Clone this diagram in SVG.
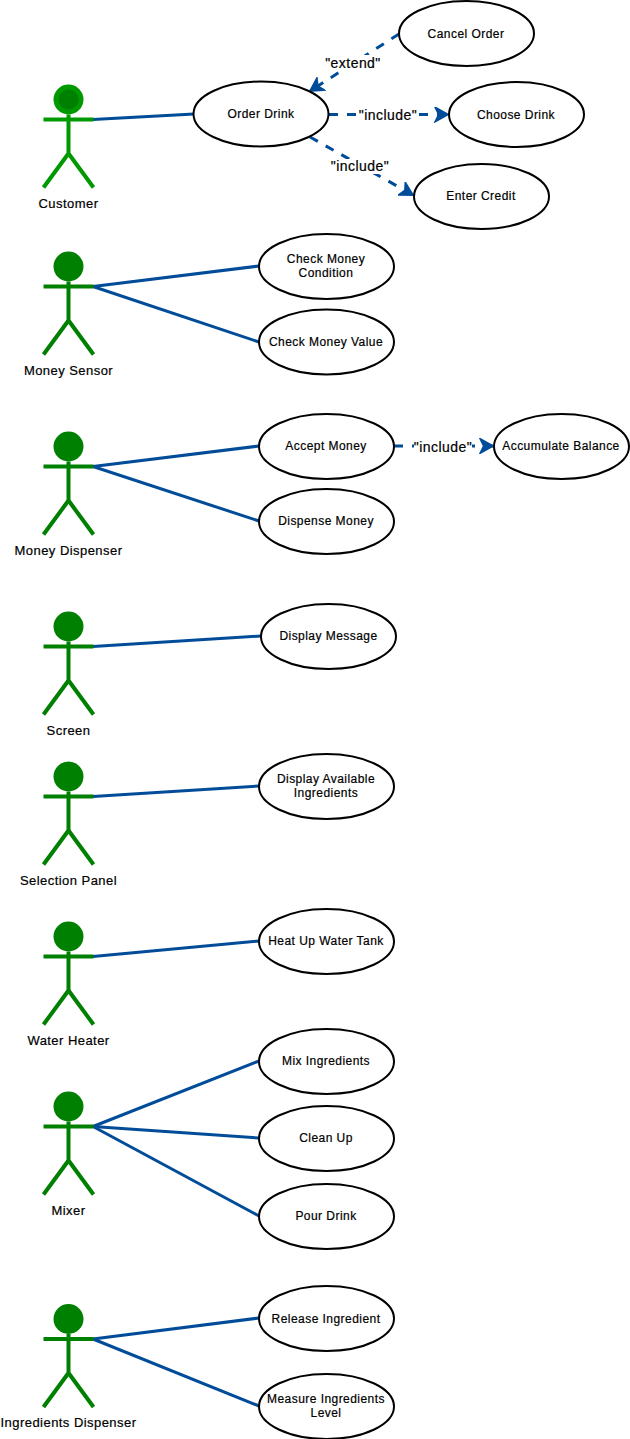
<svg xmlns="http://www.w3.org/2000/svg" width="630" height="1439" viewBox="0 0 630 1439">
<style>
text{font-family:"Liberation Sans",Arial,sans-serif;fill:#000;stroke:#000;stroke-width:.2px;text-anchor:middle;letter-spacing:.45px}
.uc ellipse{fill:#fff;stroke:#000;stroke-width:2}
.uc text{font-size:12px}
.actor text{font-size:13px}
.actor circle{fill:#008000}
.c line{stroke:#004C99;stroke-width:3;fill:none}
.d line{stroke-dasharray:9 9;marker-end:url(#open)}
.lbl rect{fill:#fff}
.lbl text{font-size:14px}
</style>
<defs>
<marker id="open" markerUnits="userSpaceOnUse" markerWidth="16" markerHeight="16" refX="12" refY="7" orient="auto" viewBox="0 0 14 14">
<path d="M2 2 L11 7 L2 12 L4.500 7 Z" fill="#004C99" stroke="#004C99" stroke-width="2.500" stroke-linejoin="miter"/>
</marker>
<path id="fig" d="M-25 20H25M0 15V54M-25 88L0 54L25 88" fill="none" stroke="#008000" stroke-width="4"/>
</defs>
<g id="connectors" class="c">
<line x1="93" y1="119.500" x2="194" y2="114"/>
<line x1="93" y1="286.500" x2="259" y2="266"/>
<line x1="93" y1="286.500" x2="259" y2="342"/>
<line x1="93" y1="466.500" x2="259" y2="446"/>
<line x1="93" y1="466.500" x2="259" y2="521"/>
<line x1="93" y1="646.500" x2="261" y2="636"/>
<line x1="93" y1="796.500" x2="259" y2="786"/>
<line x1="93" y1="956.500" x2="259" y2="941"/>
<line x1="93" y1="1126.500" x2="259" y2="1061"/>
<line x1="93" y1="1126.500" x2="259" y2="1138"/>
<line x1="93" y1="1126.500" x2="259" y2="1216"/>
<line x1="93" y1="1339" x2="259" y2="1318"/>
<line x1="93" y1="1339" x2="259" y2="1406"/>
<g class="d">
<line x1="399" y1="34" x2="310" y2="91"/>
<line x1="329" y1="114.500" x2="448" y2="114.500"/>
<line x1="310" y1="137" x2="413" y2="195"/>
<line x1="394" y1="446" x2="493" y2="446"/>
</g>
</g>
<g id="connector-labels" class="lbl">
<g><rect x="325" y="55" width="56" height="15"/><text x="353" y="68">"extend"</text></g>
<g><rect x="358" y="108" width="60" height="15"/><text x="388" y="120">"include"</text></g>
<g><rect x="330" y="159" width="60" height="15"/><text x="360" y="171">"include"</text></g>
<g><rect x="414" y="440" width="58" height="15"/><text x="443" y="452">"include"</text></g>
</g>
<g id="actor-customer" class="actor" transform="translate(68.500 99.500)"><path fill="none" stroke="#009900" stroke-width="4" d="M-25 20H25M0 15V54M-25 88L0 54L25 88"/><circle r="15" style="fill:#009900"/><circle r="10"/><text y="108">Customer</text></g>
<g id="actor-money-sensor" class="actor" transform="translate(68.500 266.500)"><use href="#fig"/><circle r="15"/><text y="108">Money Sensor</text></g>
<g id="actor-money-dispenser" class="actor" transform="translate(68.500 446.500)"><use href="#fig"/><circle r="15"/><text y="108">Money Dispenser</text></g>
<g id="actor-screen" class="actor" transform="translate(68.500 626.500)"><use href="#fig"/><circle r="15"/><text y="108">Screen</text></g>
<g id="actor-selection-panel" class="actor" transform="translate(68.500 776.500)"><use href="#fig"/><circle r="15"/><text y="108">Selection Panel</text></g>
<g id="actor-water-heater" class="actor" transform="translate(68.500 936.500)"><use href="#fig"/><circle r="15"/><text y="108">Water Heater</text></g>
<g id="actor-mixer" class="actor" transform="translate(68.500 1106.500)"><use href="#fig"/><circle r="15"/><text y="108">Mixer</text></g>
<g id="actor-ingredients-dispenser" class="actor" transform="translate(68.500 1319)"><use href="#fig"/><circle r="15"/><text y="108">Ingredients Dispenser</text></g>
<g id="uc-order-drink" class="uc"><ellipse cx="261" cy="114" rx="67.500" ry="32.500"/><text x="261" y="118">Order Drink</text></g>
<g id="uc-cancel-order" class="uc"><ellipse cx="466.500" cy="33.500" rx="67.500" ry="32.500"/><text x="466" y="38">Cancel Order</text></g>
<g id="uc-choose-drink" class="uc"><ellipse cx="516.500" cy="114.500" rx="67.500" ry="32.500"/><text x="516" y="119">Choose Drink</text></g>
<g id="uc-enter-credit" class="uc"><ellipse cx="481.500" cy="196.500" rx="67.500" ry="32.500"/><text x="481" y="200">Enter Credit</text></g>
<g id="uc-check-money-condition" class="uc"><ellipse cx="326.500" cy="266.500" rx="67.500" ry="32.500"/><text x="326" y="263">Check Money</text><text x="326" y="277">Condition</text></g>
<g id="uc-check-money-value" class="uc"><ellipse cx="326.500" cy="342" rx="67.500" ry="32.500"/><text x="326" y="346">Check Money Value</text></g>
<g id="uc-accept-money" class="uc"><ellipse cx="326.500" cy="446.500" rx="67.500" ry="32.500"/><text x="326" y="450">Accept Money</text></g>
<g id="uc-accumulate-balance" class="uc"><ellipse cx="561.500" cy="446.500" rx="67.500" ry="32.500"/><text x="561" y="450">Accumulate Balance</text></g>
<g id="uc-dispense-money" class="uc"><ellipse cx="326.500" cy="521.500" rx="67.500" ry="32.500"/><text x="326" y="525">Dispense Money</text></g>
<g id="uc-display-message" class="uc"><ellipse cx="328.500" cy="636.500" rx="67.500" ry="32.500"/><text x="328.500" y="640">Display Message</text></g>
<g id="uc-display-available" class="uc"><ellipse cx="326.500" cy="786.500" rx="67.500" ry="32.500"/><text x="326" y="783">Display Available</text><text x="326" y="797">Ingredients</text></g>
<g id="uc-heat-up" class="uc"><ellipse cx="326.500" cy="941.500" rx="67.500" ry="32.500"/><text x="326" y="945">Heat Up Water Tank</text></g>
<g id="uc-mix" class="uc"><ellipse cx="326.500" cy="1061.500" rx="67.500" ry="32.500"/><text x="326" y="1065">Mix Ingredients</text></g>
<g id="uc-clean" class="uc"><ellipse cx="326.500" cy="1138.500" rx="67.500" ry="32.500"/><text x="326" y="1142">Clean Up</text></g>
<g id="uc-pour" class="uc"><ellipse cx="326.500" cy="1216.500" rx="67.500" ry="32.500"/><text x="326" y="1220">Pour Drink</text></g>
<g id="uc-release" class="uc"><ellipse cx="326.500" cy="1318.500" rx="67.500" ry="32.500"/><text x="326" y="1323">Release Ingredient</text></g>
<g id="uc-measure" class="uc"><ellipse cx="326.500" cy="1406.500" rx="67.500" ry="32.500"/><text x="326" y="1403">Measure Ingredients</text><text x="326" y="1417">Level</text></g>
</svg>
